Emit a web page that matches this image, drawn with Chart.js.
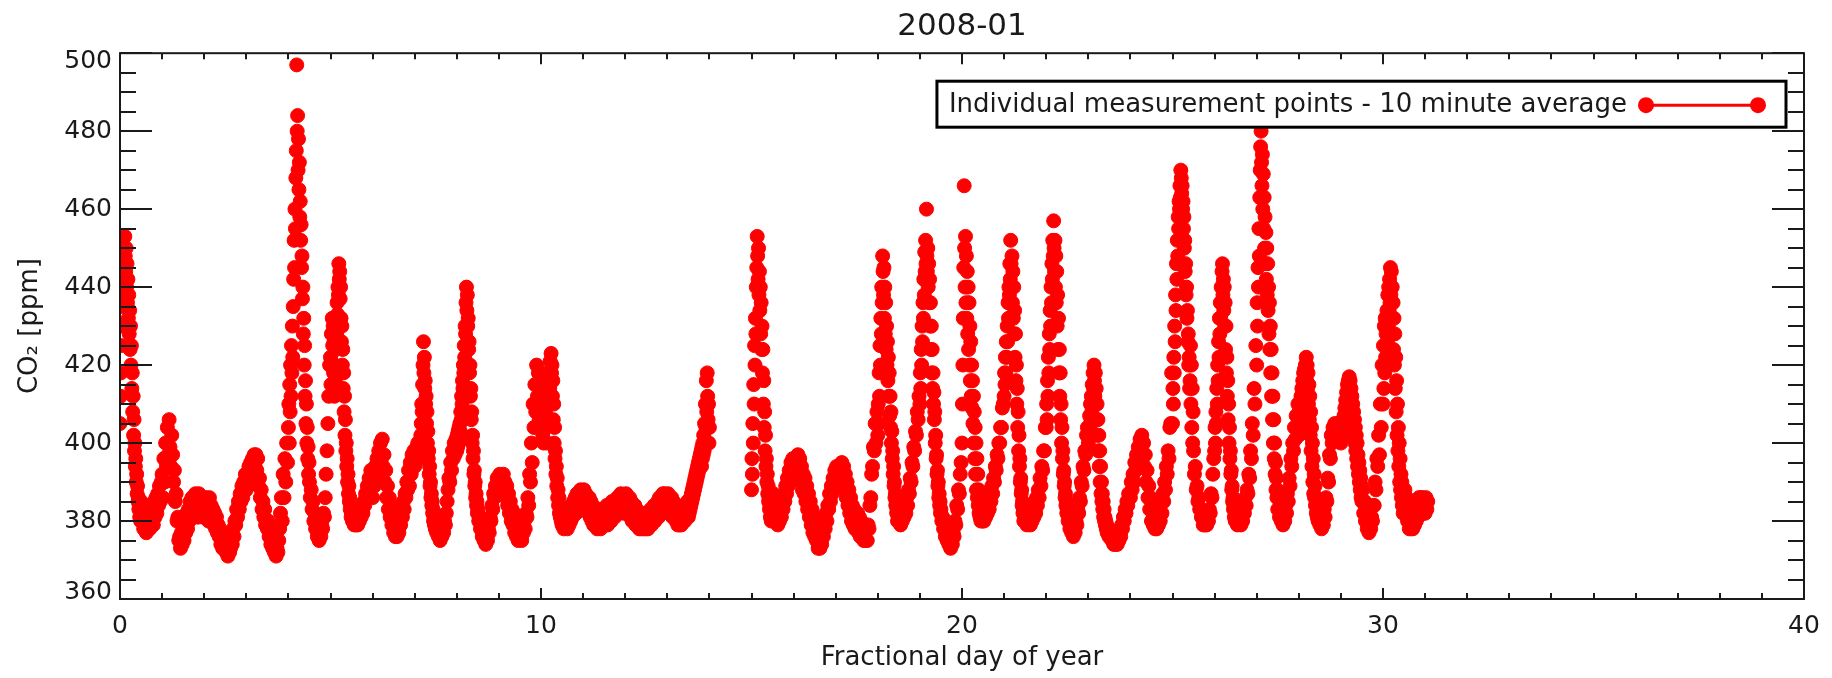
<!DOCTYPE html>
<html>
<head>
<meta charset="utf-8">
<script src="https://cdn.jsdelivr.net/npm/chart.js@4.4.1/dist/chart.umd.min.js"></script>
<style>
html,body{margin:0;padding:0;background:#fff;}
#wrap{width:1832px;height:678px;position:relative;background:#fff;}
</style>
</head>
<body>
<div id="wrap"><canvas id="c" width="1832" height="678"></canvas></div>
<script>
// ---- text ----
const chartTitle = '2008-01';
const seriesLabel = 'Individual measurement points - 10 minute average';
const xAxisTitle = 'Fractional day of year';
const yAxisTitle = 'CO\u2082 [ppm]';
const xTickLabels = [0, 10, 20, 30, 40];
const yTickLabels = [360, 380, 400, 420, 440, 460, 480, 500];

// ---- data: CO2 [ppm] per half day of year ("am" = d.0-d.5, "pm" = d.5-d+1).
// 24 values = 30-minute samples, 48 values = 15-minute samples (during spikes).
const d00am = [405,412,418,425,430,438,435,445,440,450,446,453, 448,444,450,440,446,436,442,432,438,428,434,424, 430,420,425,414,418,408,412,402,406,398,400,394, 396,390,392,387,389,385,386,383,384,381,383,380];
const d00pm = [385,380,384,378,383,381,377,382,379,384,378,382, 380,384,379,385,381,386,382,387,384,389,385,390];
const d01am = [392,386,396,390,400,394,404,397,406,399,394,402, 397,390,393,385,387,380,381,375,376,373,377,374];
const d01pm = [378,375,380,377,382,378,383,380,385,381,386,382, 386,382,387,383,386,381,387,383,386,382,385,381];
const d02am = [385,381,386,382,385,380,386,382,384,380,383,379, 382,378,381,377,379,376,378,374,377,373,376,373];
const d02pm = [375,372,374,371,375,372,373,376,374,378,376,380, 379,383,381,385,383,387,385,389,386,390,388,392];
const d03am = [388,392,389,394,391,395,392,396,393,397,394,397, 393,396,389,391,386,388,383,385,381,383,379,380];
const d03pm = [378,380,376,378,374,376,373,375,372,374,371,373, 372,375,378,382,386,380,392,386,396,390,400,395];
const d04am = [404,410,400,415,408,420,412,425,418,430,422,435, 442,452,445,460,455,468,475,497,480,484,470,478, 465,472,458,462,452,456,445,448,437,440,428,432, 420,425,412,416,405,410,400,404,396,399,392,395];
const d04pm = [390,386,388,383,385,380,382,378,379,376,378,375, 377,376,379,378,382,381,386,392,398,405,412,420];
const d05am = [422,415,428,420,432,425,430,418,426,412,420,416, 424,430,428,436,433,440,438,446,442,444,437,440, 432,426,430,420,424,414,418,408,412,402,406,398, 400,394,396,390,392,387,389,385,386,383,384,381];
const d05pm = [382,380,381,379,381,379,380,379,381,380,382,381, 383,382,385,384,387,386,389,388,391,390,393,392];
const d06am = [386,391,389,394,390,396,392,398,395,400,396,401, 394,397,390,393,386,389,383,386,381,384,379,382];
const d06pm = [377,380,376,379,376,380,377,381,379,383,381,385, 383,387,386,390,388,393,389,395,392,397,394,398];
const d07am = [394,397,395,398,396,399,397,400,398,396,399,397, 400,398,402,405,410,408,415,420,426,418,422,414, 416,410,412,405,408,400,403,396,398,392,394,389, 390,386,387,384,385,382,383,380,381,379,380,378];
const d07pm = [379,377,378,376,377,375,377,376,378,377,380,379, 382,385,388,391,390,395,393,398,396,400,397,401];
const d08am = [398,402,399,403,400,404,401,405,403,408,406,412, 410,416,414,420,418,425,422,430,428,436,440,434, 438,430,432,424,426,418,420,412,414,406,408,400, 402,396,398,392,393,389,390,386,387,384,385,382];
const d08pm = [383,380,381,378,379,376,377,375,376,374,377,375, 378,377,381,380,384,383,387,386,389,388,391,389];
const d09am = [389,392,388,391,387,392,388,390,386,389,384,387, 382,385,380,383,379,382,377,380,376,379,375,378];
const d09pm = [376,379,375,378,377,380,378,382,381,386,384,392, 390,400,395,410,404,415,408,420,412,418,406,414];
const d10am = [410,418,406,414,402,412,400,410,405,415,408,416, 404,412,400,410,406,414,410,418,414,421,416,423, 418,420,412,416,406,410,400,404,396,398,392,394, 389,391,386,388,384,386,382,384,381,383,380,382];
const d10pm = [379,383,378,382,379,383,378,382,379,383,380,384, 381,385,382,386,382,387,383,387,384,388,384,387];
const d11am = [384,388,383,387,383,386,382,386,381,385,380,384, 379,383,379,383,378,382,379,383,378,382,379,383];
const d11pm = [379,383,380,384,379,384,380,384,380,385,381,385, 381,385,382,386,382,386,383,387,383,386,382,386];
const d12am = [383,387,382,386,382,386,381,385,380,384,380,384, 379,383,379,382,378,382,378,382,378,381,378,382];
const d12pm = [378,382,378,382,379,383,379,383,380,384,380,384, 381,385,381,386,382,386,382,387,383,387,383,386];
const d13am = [383,387,382,386,382,386,381,385,381,384,380,384, 379,383,379,383,379,383,380,384,380,384,381,385];
const d13pm = [381,384,382,385,383,386,384,387,385,388,386,389, 387,390,388,391,389,392,390,393,391,394,392,395, 393,396,394,397,395,398,394,399,396,400,397,402, 398,405,400,410,404,416,408,418,412,406,410,400];
const d14am = [404,null,null,null,null,null,null,null,null,null,null,null, null,null,null,null,null,null,null,null,null,null,null,null];
const d14pm = [null,null,null,null,null,null,null,null,null,null,null,null, null,null,null,null,null,null,null,null,null,null,null,null];
const d15am = [388,396,392,405,400,415,410,425,420,432,428,440, 445,453,448,442,450,438,444,434,440,428,436,424, 430,418,424,410,416,404,408,398,402,394,396,390, 392,387,389,385,386,383,384,381,383,380,382,381];
const d15pm = [383,387,381,385,380,384,379,383,380,384,381,385, 383,387,385,389,387,391,389,393,390,395,392,396];
const d16am = [391,395,392,396,393,397,392,396,390,394,388,392, 387,391,385,389,383,387,381,385,379,383,377,381];
const d16pm = [376,380,375,378,373,377,373,376,374,378,376,380, 378,382,380,384,383,387,385,389,387,391,389,393];
const d17am = [390,394,389,393,390,394,391,395,390,394,388,392, 386,390,384,388,382,386,380,384,379,383,378,382];
const d17pm = [378,382,377,381,376,380,376,379,375,379,375,378, 375,379,378,384,386,392,394,399,398,405,400,408];
const d18am = [402,410,405,418,412,425,420,432,428,440,436,448, 444,438,445,432,440,428,436,424,430,420,426,416, 422,412,418,407,412,404,408,400,403,396,398,392, 394,389,390,386,387,384,385,382,383,380,382,381];
const d18pm = [380,384,379,383,380,384,381,385,382,386,384,388, 387,391,390,395,394,399,398,403,402,408,406,412];
const d19am = [410,418,414,424,420,430,426,436,432,442,438,449, 444,452,446,460,448,444,450,440,446,436,442,430, 436,424,430,418,424,414,418,410,413,406,408,400, 402,396,397,392,393,389,390,386,387,384,385,382];
const d19pm = [383,380,381,378,379,376,377,375,376,374,375,373, 375,374,377,376,380,379,384,383,388,387,392,395];
const d20am = [400,410,420,432,445,466,450,440,453,436,448,432, 444,428,440,424,436,420,430,416,426,412,420,409, 416,405,412,400,408,396,404,392,400,388,396,386, 392,384,388,382,386,381,384,380,383,381,382,380];
const d20pm = [383,380,384,381,385,382,386,383,387,385,389,387, 391,390,394,393,397,396,400,400,404,404,409,410];
const d21am = [412,418,415,422,418,426,422,430,426,436,432,440, 438,446,442,452,446,440,448,436,444,432,440,428, 434,422,428,416,420,410,414,404,408,398,402,394, 396,390,391,387,388,384,385,382,383,380,382,381];
const d21pm = [380,383,379,382,380,383,379,382,380,384,381,385, 382,386,384,388,386,391,389,394,393,398,398,404];
const d22am = [404,410,406,416,412,422,418,428,424,434,430,440, 436,446,442,452,448,457,450,444,452,440,448,436, 444,430,438,424,432,418,424,412,418,406,410,400, 404,396,398,392,393,389,390,386,387,384,385,382];
const d22pm = [383,380,381,378,379,377,378,376,378,377,380,379, 383,382,386,385,390,389,394,393,398,397,402,404];
const d23am = [400,404,402,407,404,410,406,412,408,415,410,418, 414,420,416,412,418,410,414,406,410,402,406,398, 402,394,398,390,394,387,390,385,387,383,385,381, 383,380,381,379,380,378,379,377,378,377,378,376];
const d23pm = [378,376,377,375,376,374,376,374,375,374,376,375, 377,376,379,378,381,380,383,382,385,384,387,386];
const d24am = [386,390,388,392,390,395,393,397,395,399,397,401, 399,402,397,400,394,397,390,393,386,389,383,386];
const d24pm = [380,384,379,383,378,382,378,382,379,383,380,385, 382,387,385,390,388,394,392,398,396,404,405,418];
const d25am = [405,414,410,422,418,430,426,438,434,446,442,452, 448,458,455,462,460,466,463,470,468,464,466,460, 462,455,458,450,452,444,446,438,440,432,434,426, 428,420,422,414,416,425,410,420,404,414,400,408];
const d25pm = [398,392,394,388,389,385,386,383,383,381,381,379, 380,379,380,379,381,380,383,382,387,386,392,396];
const d26am = [398,404,400,408,405,414,410,420,416,426,422,432, 428,436,432,440,436,444,446,438,442,434,440,430, 436,424,430,418,422,412,416,406,410,400,404,396, 398,392,393,388,389,385,386,383,384,381,383,380];
const d26pm = [381,383,379,382,380,383,379,382,380,384,382,386, 384,388,387,392,391,398,396,405,402,414,410,425];
const d27am = [420,436,430,445,440,455,448,463,470,476,480,472, 466,474,460,469,455,463,450,458,446,454,442,450, 438,446,434,440,428,436,424,430,418,424,412,418, 406,412,400,406,396,400,392,395,388,391,386,388];
const d27pm = [383,386,381,384,380,383,379,382,380,384,382,387, 385,391,389,396,394,400,398,404,401,407,404,410];
const d28am = [402,408,404,410,406,412,408,414,410,416,412,418, 414,419,416,420,418,422,416,420,414,418,410,415, 406,412,402,408,398,404,394,400,390,396,387,392, 386,389,384,386,382,385,381,384,380,383,380,382];
const d28pm = [379,383,378,382,379,383,381,386,385,391,390,397, 396,402,400,404,401,405,402,404,401,405,402,404];
const d29am = [400,404,401,405,402,406,403,407,404,409,406,411, 408,413,410,415,412,416,414,417,412,416,410,414, 408,412,406,410,404,408,402,406,400,404,398,402, 396,400,394,397,392,395,390,393,388,391,386,389];
const d29pm = [385,388,382,385,380,383,378,381,377,380,378,381, 380,384,384,390,388,396,394,402,397,410,404,420];
const d30am = [410,425,414,430,418,432,422,428,420,434,426,438, 430,440,434,442,436,445,438,444,432,440,428,436, 424,432,420,428,414,422,408,416,402,410,398,404, 394,400,390,396,388,392,386,390,384,388,382,386];
const d30pm = [384,388,382,386,380,384,378,382,378,382,378,382, 379,383,380,385,381,386,382,386,382,386,382,385];
const d31am = [382,386,383,385];

const halfDays = [
  d00am,d00pm,d01am,d01pm,d02am,d02pm,d03am,d03pm,d04am,d04pm,d05am,d05pm,
  d06am,d06pm,d07am,d07pm,d08am,d08pm,d09am,d09pm,d10am,d10pm,d11am,d11pm,
  d12am,d12pm,d13am,d13pm,d14am,d14pm,d15am,d15pm,d16am,d16pm,d17am,d17pm,
  d18am,d18pm,d19am,d19pm,d20am,d20pm,d21am,d21pm,d22am,d22pm,d23am,d23pm,
  d24am,d24pm,d25am,d25pm,d26am,d26pm,d27am,d27pm,d28am,d28pm,d29am,d29pm,
  d30am,d30pm,d31am];

const points = [];
halfDays.forEach((vals, k) => {
  const perHalfDay = vals.length > 24 ? 48 : 24;
  vals.slice(0, perHalfDay).forEach((v, i) => {
    if (v !== null) points.push({x: k * 0.5 + i * 0.5 / perHalfDay, y: v});
  });
});

// ---- styles ----
const RED = '#ff0000';
const INK = '#1a1a1a';
const FONT = 'DejaVu Sans';

// inward ticks, frame and y tick labels (end labels nudged inside the range), drawn from the scales
const framePlugin = {
  id: 'frame',
  afterDatasetsDraw(chart) {
    const {ctx, chartArea: a, scales: {x, y}} = chart;
    ctx.save();
    ctx.strokeStyle = INK;
    ctx.lineWidth = 2;
    ctx.beginPath();
    for (let v = x.min; v <= x.max; v += 1) {
      const px = Math.round(x.getPixelForValue(v));
      const len = v % 10 === 0 ? 11 : 6;
      ctx.moveTo(px, a.bottom); ctx.lineTo(px, a.bottom - len);
      ctx.moveTo(px, a.top); ctx.lineTo(px, a.top + len);
    }
    for (let v = y.min; v <= y.max; v += 5) {
      const py = Math.round(y.getPixelForValue(v));
      const len = v % 20 === 0 ? 32 : 16;
      ctx.moveTo(a.left, py); ctx.lineTo(a.left + len, py);
      ctx.moveTo(a.right, py); ctx.lineTo(a.right - len, py);
    }
    ctx.stroke();
    ctx.strokeRect(a.left, a.top, a.right - a.left, a.bottom - a.top);

    ctx.fillStyle = INK;
    ctx.font = '25px "' + FONT + '"';
    ctx.textAlign = 'right';
    ctx.textBaseline = 'middle';
    yTickLabels.forEach(v => {
      let py = y.getPixelForValue(v);
      if (v === y.max) py += 8;
      if (v === y.min) py -= 7;
      ctx.fillText(String(v), a.left - 8, py);
    });
    ctx.restore();
  }
};

// boxed legend: text, then a line with a marker at each end
const legendPlugin = {
  id: 'boxLegend',
  afterDraw(chart) {
    const {ctx, chartArea: a} = chart;
    const ds = chart.data.datasets[0];
    ctx.save();
    ctx.font = '26px "' + FONT + '"';
    const w = ctx.measureText(ds.label).width;
    const boxRight = a.right - 18;
    const boxW = w + 171;
    const boxLeft = boxRight - boxW;
    const boxTop = a.top + 28;
    const boxH = 46;
    ctx.fillStyle = '#fff';
    ctx.fillRect(boxLeft, boxTop, boxW, boxH);
    ctx.lineWidth = 3;
    ctx.strokeStyle = '#000';
    ctx.strokeRect(boxLeft, boxTop, boxW, boxH);
    ctx.fillStyle = INK;
    ctx.textBaseline = 'alphabetic';
    ctx.textAlign = 'left';
    ctx.fillText(ds.label, boxLeft + 12, boxTop + 31);
    const lx1 = boxLeft + 12 + w + 19, lx2 = lx1 + 112, ly = boxTop + 24;
    ctx.strokeStyle = ds.borderColor;
    ctx.lineWidth = 3;
    ctx.beginPath(); ctx.moveTo(lx1, ly); ctx.lineTo(lx2, ly); ctx.stroke();
    ctx.fillStyle = ds.pointBackgroundColor;
    [lx1, lx2].forEach(cx => { ctx.beginPath(); ctx.arc(cx, ly, 8, 0, Math.PI * 2); ctx.fill(); });
    ctx.restore();
  }
};

new Chart(document.getElementById('c').getContext('2d'), {
  type: 'scatter',
  data: {
    datasets: [{
      label: seriesLabel,
      data: points,
      showLine: false,
      pointRadius: 7,
      pointHoverRadius: 7,
      pointBorderWidth: 1,
      pointBackgroundColor: RED,
      pointBorderColor: RED,
      borderColor: RED,
      backgroundColor: RED,
      clip: 0
    }]
  },
  options: {
    responsive: false,
    animation: false,
    devicePixelRatio: 1,
    events: [],
    layout: {padding: {left: 0, right: 28, top: 0, bottom: 0}},
    plugins: {
      legend: {display: false},
      tooltip: {enabled: false},
      title: {
        display: true, text: chartTitle, fullSize: false, color: INK,
        font: {family: FONT, size: 31, weight: 'normal'},
        padding: {top: 8, bottom: 8}
      }
    },
    scales: {
      x: {
        type: 'linear', min: 0, max: 40,
        afterBuildTicks: s => { s.ticks = xTickLabels.map(v => ({value: v})); },
        afterFit: s => { s.height = 79; },
        grid: {display: false, drawTicks: false},
        border: {display: false},
        ticks: {color: INK, font: {family: FONT, size: 25}, padding: 12, maxRotation: 0, autoSkip: false},
        title: {display: true, text: xAxisTitle, color: INK, font: {family: FONT, size: 26}, padding: {top: 0, bottom: 4}}
      },
      y: {
        type: 'linear', min: 360, max: 500,
        afterBuildTicks: s => { s.ticks = yTickLabels.map(v => ({value: v})); },
        afterFit: s => { s.width = 120; },
        grid: {display: false, drawTicks: false},
        border: {display: false},
        ticks: {display: false},
        title: {display: true, text: yAxisTitle, color: INK, font: {family: FONT, size: 26}, padding: {top: 15, bottom: 0}}
      }
    }
  },
  plugins: [framePlugin, legendPlugin]
});
</script>
</body>
</html>
